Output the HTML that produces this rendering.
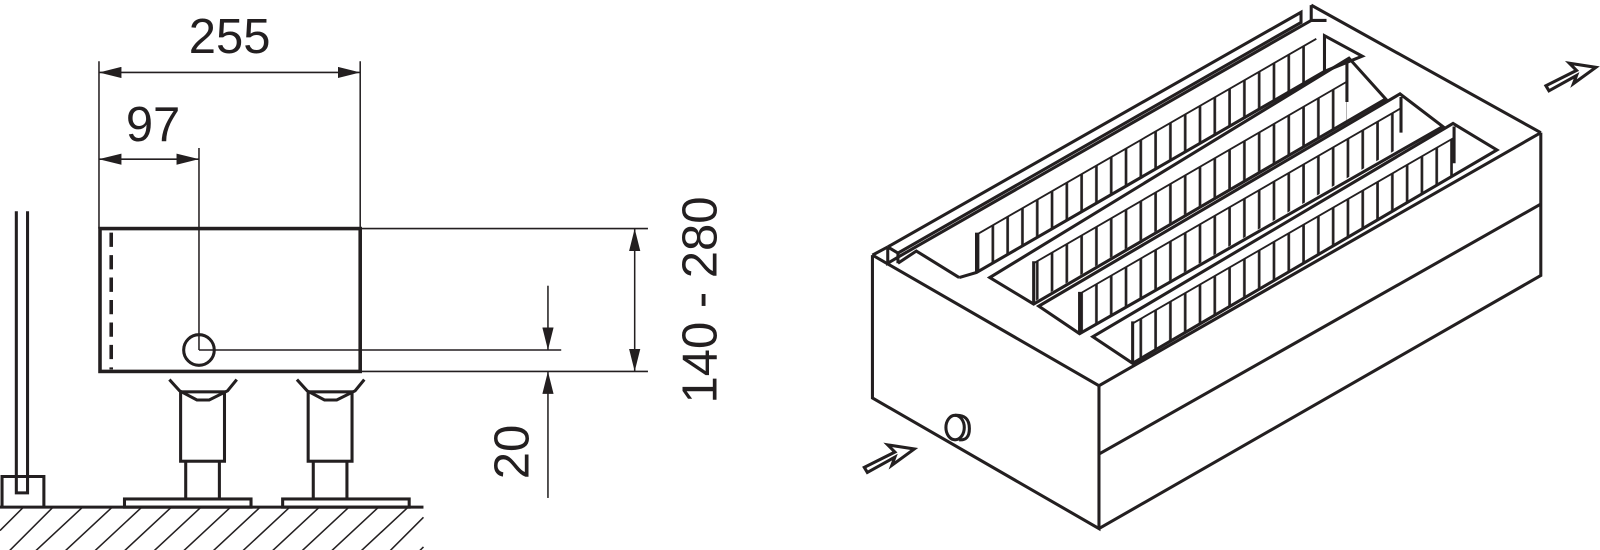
<!DOCTYPE html>
<html><head><meta charset="utf-8"><style>
html,body{margin:0;padding:0;background:#fff;width:1600px;height:550px;overflow:hidden}
svg{display:block}
text{font-family:"Liberation Sans",sans-serif;fill:#231f20}
</style></head><body>
<svg width="1600" height="550" viewBox="0 0 1600 550" xmlns="http://www.w3.org/2000/svg">
<defs>
<marker id="ar" viewBox="0 0 20 10" refX="20" refY="5" markerWidth="22" markerHeight="11" markerUnits="userSpaceOnUse" orient="auto-start-reverse"><path d="M0,0 L20,5 L0,10 z" fill="#231f20"/></marker>
<pattern id="fin" patternUnits="userSpaceOnUse" width="14.5" height="600" x="0" y="0">
<line x1="1.5" y1="0" x2="1.5" y2="600" stroke="#231f20" stroke-width="2.6"/>
</pattern>
</defs>
<g transform="scale(1.0204)">
<g stroke="#231f20" fill="none" stroke-linecap="butt">
<rect x="98" y="224" width="255" height="140" stroke-width="3.5"/>
<line x1="109" y1="228" x2="109" y2="362" stroke-width="3.5" stroke-dasharray="14,8"/>
<line x1="97" y1="60" x2="97" y2="224" stroke-width="1.5"/>
<line x1="353" y1="60" x2="353" y2="224" stroke-width="1.5"/>
<line x1="97" y1="71" x2="353" y2="71" stroke-width="1.5" marker-start="url(#ar)" marker-end="url(#ar)"/>
<line x1="97" y1="156" x2="195" y2="156" stroke-width="1.5" marker-start="url(#ar)" marker-end="url(#ar)"/>
<line x1="195" y1="145" x2="195" y2="343" stroke-width="1.5"/>
<circle cx="195" cy="343" r="15" stroke-width="3"/>
<line x1="195" y1="343" x2="550" y2="343" stroke-width="1.5"/>
<line x1="353" y1="224" x2="635" y2="224" stroke-width="1.5"/>
<line x1="353" y1="364" x2="635" y2="364" stroke-width="1.5"/>
<line x1="622" y1="224" x2="622" y2="364" stroke-width="1.5" marker-start="url(#ar)" marker-end="url(#ar)"/>
<line x1="537" y1="280" x2="537" y2="343" stroke-width="1.5" marker-end="url(#ar)"/>
<line x1="537" y1="488" x2="537" y2="364" stroke-width="1.5" marker-end="url(#ar)"/>
<g stroke-width="3">
<path d="M166,372 L176,383 L193,392 L205,392 L223,383 L232,372"/>
<rect x="177" y="384" width="43" height="68"/>
<path d="M182,452 V488 M215,452 V488"/>
<rect x="122" y="489" width="124" height="8"/>
<path d="M291,372 L301,383 L318,392 L330,392 L348,383 L357,372"/>
<rect x="302" y="384" width="43" height="68"/>
<path d="M307,452 V488 M340,452 V488"/>
<rect x="277" y="489" width="124" height="8"/>
<path d="M16,207 V483 H27 V207"/>
<path d="M2,497 V467 H43 V497"/>
<line x1="0" y1="497" x2="415" y2="497"/>
</g>
<g stroke-width="1.5">
<path d="M0,520 L23,497 M0,549 L52,497 M24,550 L81,497 M53,550 L110,497 M82,550 L139,497 M111,550 L168,497 M140,550 L197,497 M169,550 L226,497 M198,550 L255,497 M227,550 L284,497 M256,550 L313,497 M285,550 L342,497 M314,550 L371,497 M343,550 L400,497 M372,550 L415,507 M401,550 L415,536"/>
</g>
<g stroke="none">
<polygon points="957,230 957,266 1290,74 1290,38" fill="url(#fin)"/>
<polygon points="1013,258 1013,296 1320,118 1320,80" fill="url(#fin)"/>
<polygon points="1058,288 1058,326 1373,144 1373,106" fill="url(#fin)"/>
<polygon points="1110,317 1110,355 1425,173 1425,135" fill="url(#fin)"/>
</g>
<g stroke-width="1.8">
<line x1="957" y1="230" x2="1290" y2="38"/>
<line x1="1013" y1="258" x2="1320" y2="80"/>
<line x1="1058" y1="288" x2="1373" y2="106"/>
<line x1="1110" y1="317" x2="1425" y2="135"/>
</g>
<g stroke-width="3" stroke-linejoin="miter">
<path d="M855,250 L1077,378 L1510,130"/>
<path d="M855,250 V390 L1077,518 V378 M1077,518 L1510,270 V130"/>
<path d="M1077,445 L1510,200"/>
<path d="M855,250 L870,242 M1285,5 L1510,130"/>
<path d="M870,242 L870,258 L880,252 L1285,20 M870,242 L880,248 L1275,22 L1275,12 L870,242 M880,248 L880,258"/>
<path d="M1285,5 L1285,20 L1300,20 M880,258 L898,246 L940,272"/>
<path d="M940,272 L957,267 L1298,70 L1335,55 L1298,35 L1298,70"/>
<path d="M957,228 L957,267"/>
<path d="M970,272 L1013,298 L1358,97 L1322,57 Z"/>
<path d="M1013,256 V298 M1320,60 V100"/>
<path d="M1018,300 L1058,327 L1414,124 L1372,92 Z"/>
<path d="M1058,286 V327 M1373,95 V130"/>
<path d="M1071,330 L1110,356 L1467,147 L1424,121 Z"/>
<path d="M1110,315 V356 M1425,124 V160"/>
<ellipse cx="936" cy="419" rx="9" ry="12"/>
<path d="M936,407 Q950,406 950,420 Q950,432 940,431"/>
</g>
<g stroke-width="3" stroke-linejoin="miter">
<path d="M850,463 L877,448 L874,456 L896,440 L870,436 L877,443 L847,458 Z" fill="#fff"/>
<path d="M1518,89 L1545,74 L1542,82 L1564,66 L1538,62 L1545,69 L1515,84 Z" fill="#fff"/>
</g>
</g>
<text x="225" y="52" font-size="48" text-anchor="middle">255</text>
<text x="150" y="138" font-size="48" text-anchor="middle">97</text>
<text transform="translate(702,294) rotate(-90)" font-size="48" text-anchor="middle">140 - 280</text>
<text transform="translate(518,443) rotate(-90)" font-size="48" text-anchor="middle">20</text>
</g>
</svg>
</body></html>
